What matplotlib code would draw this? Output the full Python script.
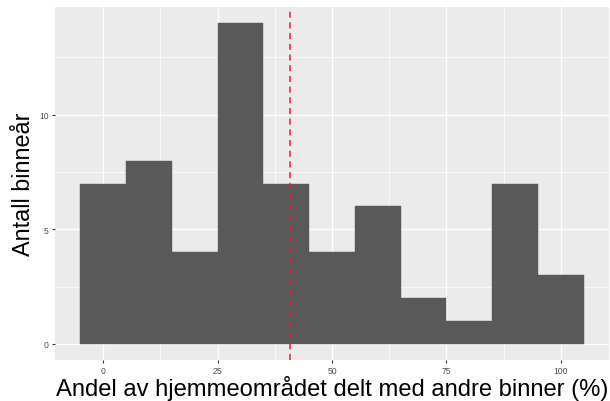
import numpy as np
import matplotlib
matplotlib.use("Agg")
import matplotlib.pyplot as plt
from matplotlib.ticker import MultipleLocator

# Histogram bins (width 10, centred on multiples of 10) and counts
bin_centers = [0, 10, 20, 30, 40, 50, 60, 70, 80, 90, 100]
counts = [7, 8, 4, 14, 7, 4, 6, 2, 1, 7, 3]
bin_width = 10

x_ticks = [0, 25, 50, 75, 100]
y_ticks = [0, 5, 10]
x_label = "Andel av hjemmeområdet delt med andre binner (%)"
y_label = "Antall binneår"

# Mean of the distribution (dashed reference line)
mean_value = np.average(bin_centers, weights=counts)

plt.rcParams["font.family"] = ["Liberation Sans", "DejaVu Sans"]

fig = plt.figure(figsize=(6.10, 4.02), dpi=100)
ax = fig.add_axes([55 / 610, 1 - 361 / 402, (609 - 55) / 610, (361 - 8) / 402])

ax.set_facecolor("#EBEBEB")
for s in ax.spines.values():
    s.set_visible(False)

ax.bar(bin_centers, counts, width=bin_width, color="#595959",
       edgecolor="#595959", linewidth=0.3, zorder=3)
ax.axvline(mean_value, color="#E8212B", linestyle=(0, (4, 3)),
           linewidth=1.1, zorder=4)

lo, hi = min(bin_centers) - bin_width / 2, max(bin_centers) + bin_width / 2
pad = (hi - lo) * 0.05
ax.set_xlim(lo - pad, hi + pad)
ymax = max(counts)
ax.set_ylim(-ymax * 0.05, ymax * 1.05)

ax.set_xticks(x_ticks)
ax.set_yticks(y_ticks)
ax.xaxis.set_minor_locator(MultipleLocator(12.5))
ax.yaxis.set_minor_locator(MultipleLocator(2.5))

ax.grid(which="major", color="white", linewidth=1.0, zorder=0)
ax.grid(which="minor", color="white", linewidth=0.5, zorder=0)
ax.set_axisbelow(True)

ax.tick_params(which="major", length=2.5, width=0.8, color="#333333",
               labelsize=6.2, labelcolor="#4D4D4D", pad=2)
ax.tick_params(which="minor", length=0)

ax.set_xlabel(x_label, fontsize=17.1, color="black", labelpad=0)
ax.set_ylabel(y_label, fontsize=16.8, color="black", labelpad=3)

fig.savefig("out.png", dpi=100, facecolor="white")
